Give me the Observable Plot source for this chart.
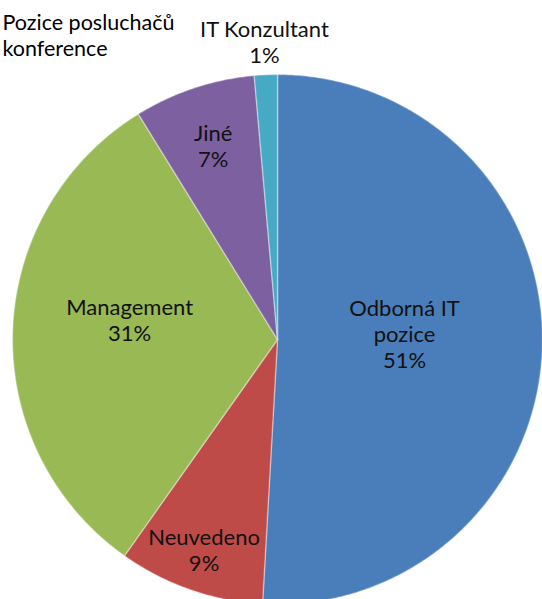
<!DOCTYPE html>
<html>
<head>
<meta charset="utf-8">
<script src="https://cdn.jsdelivr.net/npm/d3@7"></script>
<script src="https://cdn.jsdelivr.net/npm/@observablehq/plot@0.6"></script>
<style>
  html, body { margin: 0; padding: 0; background: #fff; }
  #chart { width: 542px; height: 599px; overflow: hidden; }
</style>
</head>
<body>
<div id="chart"></div>
<script>
// ---- data ----
const title = "Pozice posluchačů\nkonference";
const categories = ["Odborná IT pozice", "Neuvedeno", "Management", "Jiné", "IT Konzultant"];
const labelText = ["Odborná IT\npozice", "Neuvedeno", "Management", "Jiné", "IT Konzultant"];
const shares = [50.9, 8.9, 31.4, 7.4, 1.4];
const colors = ["#4A7EBB", "#BE4B48", "#98B954", "#7D60A0", "#46AAC5"];
// label placement (style): distance from centre as fraction of radius, and angle shift in degrees
const labelRadius = [0.48, 0.84, 0.563, 0.77, 1.125];
const labelShift = [-4.3, 0, 5.9, 0, 0];

// ---- geometry ----
const W = 542, H = 599, cx = 277, cy = 339, R = 265;
const arcs = d3.pie().sort(null).value(d => d)(shares);

const slicePts = [];
arcs.forEach((a, i) => {
  slicePts.push({cat: categories[i], x: 0, y: 0});
  const n = Math.max(4, Math.ceil((a.endAngle - a.startAngle) / 0.01));
  for (let k = 0; k <= n; k++) {
    const t = a.startAngle + (a.endAngle - a.startAngle) * k / n;
    slicePts.push({cat: categories[i], x: Math.sin(t), y: Math.cos(t)});
  }
});

const labels = arcs.map((a, i) => {
  const m = (a.startAngle + a.endAngle) / 2 + labelShift[i] * Math.PI / 180;
  return {
    x: Math.sin(m) * labelRadius[i],
    y: Math.cos(m) * labelRadius[i],
    text: labelText[i] + "\n" + Math.round(shares[i]) + "%"
  };
});

const chart = Plot.plot({
  width: W,
  height: H,
  margin: 0,
  style: {fontFamily: "Lato, 'Open Sans', sans-serif", background: "white"},
  x: {domain: [-cx / R, (W - cx) / R], axis: null},
  y: {domain: [-(H - cy) / R, cy / R], axis: null},
  color: {domain: categories, range: colors},
  marks: [
    Plot.line(slicePts, {
      x: "x", y: "y", z: "cat", fill: "cat",
      stroke: "white", strokeOpacity: 0.35, strokeWidth: 1.5,
      curve: "linear-closed"
    }),
    Plot.text(labels, {
      x: "x", y: "y", text: "text",
      fontSize: 22, fill: "#111", lineHeight: 1.2, lineAnchor: "middle"
    }),
    Plot.text([title], {
      frameAnchor: "top-left", dx: 2, dy: 10,
      text: d => d, textAnchor: "start", lineAnchor: "top",
      fontSize: 21.5, fill: "#000", lineHeight: 1.25
    })
  ]
});
document.getElementById("chart").appendChild(chart);
</script>
</body>
</html>
